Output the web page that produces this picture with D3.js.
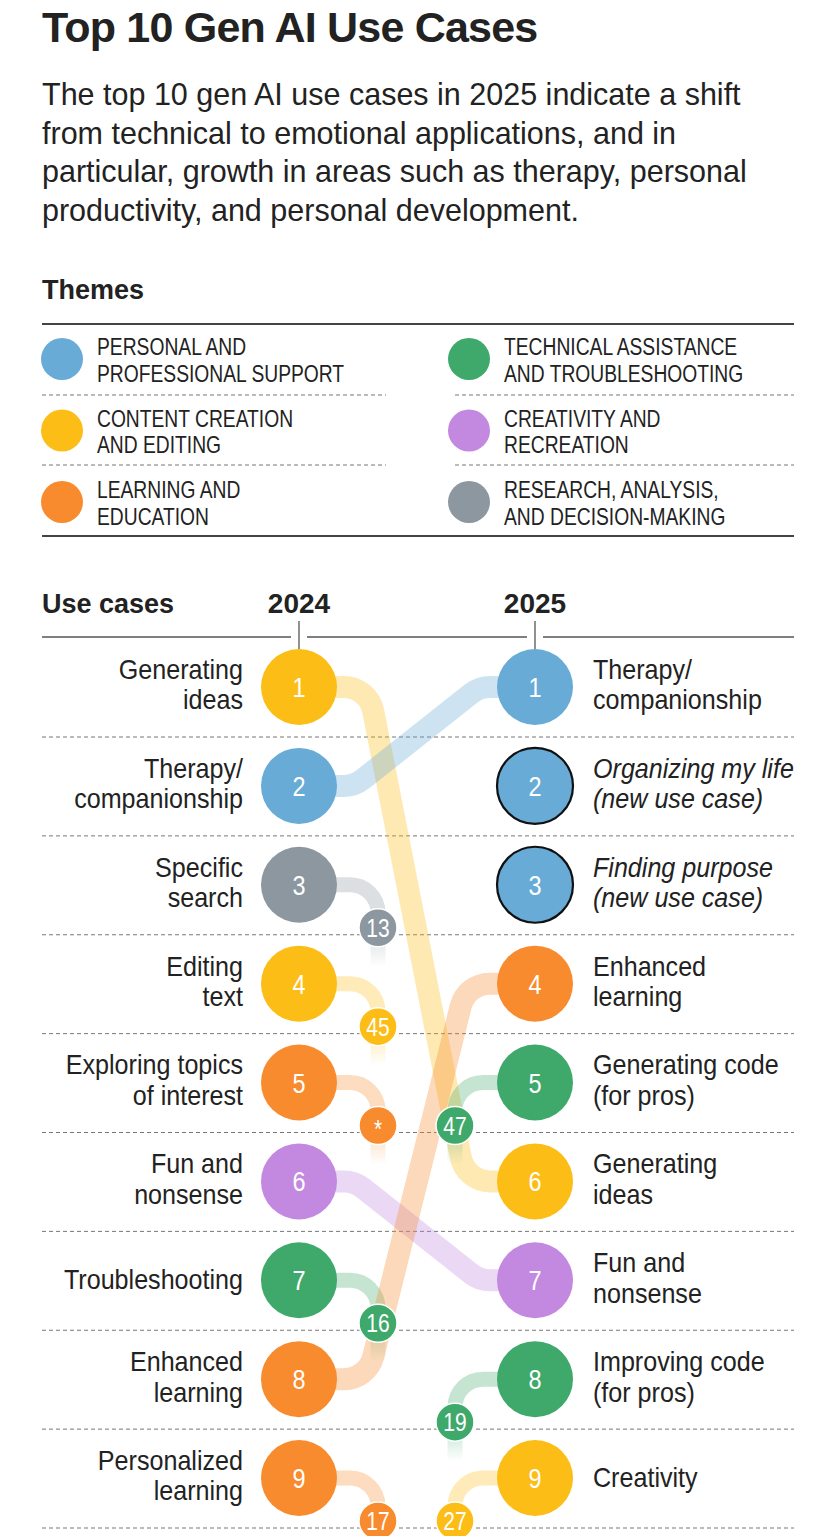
<!DOCTYPE html>
<html>
<head>
<meta charset="utf-8">
<script src="https://cdn.jsdelivr.net/npm/d3@7"></script>
<style>
body { margin: 0; background: #fff; }
text { fill: #222; }
</style>
</head>
<body>
<script>
// chart size
var svgWidth = 824;
var svgHeight = 1536;

// themes (legend)
var themeKeys = ["personal", "technical", "content", "creativity", "learning", "research"];
var themeLabels = [
    ["PERSONAL AND", "PROFESSIONAL SUPPORT"],
    ["TECHNICAL ASSISTANCE", "AND TROUBLESHOOTING"],
    ["CONTENT CREATION", "AND EDITING"],
    ["CREATIVITY AND", "RECREATION"],
    ["LEARNING AND", "EDUCATION"],
    ["RESEARCH, ANALYSIS,", "AND DECISION-MAKING"]
];
var themeColors = ["#67abd6", "#3fa96b", "#fbbd16", "#c388e0", "#f78b2e", "#8d979f"];

// 2024 ranking
var cases2024 = [
    ["Generating", "ideas"],
    ["Therapy/", "companionship"],
    ["Specific", "search"],
    ["Editing", "text"],
    ["Exploring topics", "of interest"],
    ["Fun and", "nonsense"],
    ["Troubleshooting"],
    ["Enhanced", "learning"],
    ["Personalized", "learning"]
];
var theme2024 = ["content", "personal", "research", "content", "learning", "creativity", "technical", "learning", "learning"];
var rankIn2025 = [6, 1, 13, 45, "*", 7, 16, 4, 17];

// 2025 ranking
var cases2025 = [
    ["Therapy/", "companionship"],
    ["Organizing my life", "(new use case)"],
    ["Finding purpose", "(new use case)"],
    ["Enhanced", "learning"],
    ["Generating code", "(for pros)"],
    ["Generating", "ideas"],
    ["Fun and", "nonsense"],
    ["Improving code", "(for pros)"],
    ["Creativity"]
];
var theme2025 = ["personal", "personal", "personal", "learning", "technical", "content", "creativity", "technical", "content"];
var rankIn2024 = [2, "new", "new", 8, 47, 1, 6, 19, 27];

var years = ["2024", "2025"];

var sans = "'Liberation Sans', Arial, sans-serif";
// no narrow font installed: squeeze Liberation Sans horizontally
var sx = 0.84;
var squeeze = "scale(" + sx + ",1)";
var lx = 0.93; // squeeze for row labels

var svg = d3.select("body")
    .append("svg")
    .attr("width", svgWidth)
    .attr("height", svgHeight);

// title + subtitle
svg.append("text")
    .attr("x", 42).attr("y", 42)
    .style("font-family", sans).style("font-weight", "bold").style("font-size", "43px")
    .style("letter-spacing", "-0.8px")
    .text("Top 10 Gen AI Use Cases");

var subtitle = ["The top 10 gen AI use cases in 2025 indicate a shift",
    "from technical to emotional applications, and in",
    "particular, growth in areas such as therapy, personal",
    "productivity, and personal development."];
svg.append("g").selectAll("text")
    .data(subtitle)
    .enter()
    .append("text")
    .attr("x", 42)
    .attr("y", function(d, i) { return 105 + i * 38.5; })
    .style("font-family", sans).style("font-size", "30.5px")
    .text(function(d) { return d; });

// legend
var color = d3.scaleOrdinal().domain(themeKeys).range(themeColors);

svg.append("text")
    .attr("x", 42).attr("y", 299)
    .style("font-family", sans).style("font-weight", "bold").style("font-size", "27px")
    .text("Themes");

svg.append("line").attr("x1", 42).attr("x2", 794).attr("y1", 324).attr("y2", 324)
    .attr("stroke", "#444").attr("stroke-width", 2);
svg.append("line").attr("x1", 42).attr("x2", 794).attr("y1", 536).attr("y2", 536)
    .attr("stroke", "#444").attr("stroke-width", 2);

var legY = d3.scalePoint().domain([0, 1, 2]).range([359, 502]);
var legX = d3.scalePoint().domain([0, 1]).range([62, 469]);

var legend = svg.append("g").selectAll("g")
    .data(themeKeys)
    .enter()
    .append("g")
    .attr("transform", function(d, i) {
        return "translate(" + legX(i % 2) + "," + legY(Math.floor(i / 2)) + ")";
    });
legend.append("circle").attr("r", 21).attr("fill", function(d) { return color(d); });
legend.append("text")
    .attr("transform", "scale(0.82,1)")
    .style("font-family", sans).style("font-size", "23.5px")
    .selectAll("tspan")
    .data(function(d, i) { return themeLabels[i]; })
    .enter()
    .append("tspan")
    .attr("x", 35 / 0.82)
    .attr("y", function(d, i) { return -4 + i * 27; })
    .text(function(d) { return d; });

// dotted separators inside legend
[395, 465].forEach(function(yy) {
    svg.append("line").attr("x1", 42).attr("x2", 386).attr("y1", yy).attr("y2", yy)
        .attr("stroke", "#777").attr("stroke-dasharray", "4,3");
    svg.append("line").attr("x1", 455).attr("x2", 794).attr("y1", yy).attr("y2", yy)
        .attr("stroke", "#777").attr("stroke-dasharray", "4,3");
});

// scales for the ranking
var xScale = d3.scalePoint().domain(years).range([299, 535]);
var yScale = d3.scaleLinear().domain([1, 9]).range([687, 1478]);
var rBig = 38, rSmall = 19;
var xDrop = xScale("2024") + 79;
var xRise = xScale("2025") - 80;

// header
svg.append("text")
    .attr("x", 42).attr("y", 613)
    .style("font-family", sans).style("font-weight", "bold").style("font-size", "27px")
    .text("Use cases");
svg.selectAll(".year")
    .data(years)
    .enter()
    .append("text")
    .attr("class", "year")
    .attr("x", function(d) { return xScale(d); })
    .attr("y", 613)
    .attr("text-anchor", "middle")
    .style("font-family", sans).style("font-weight", "bold").style("font-size", "28px")
    .text(function(d) { return d; });

var gap = 8;
var ruleStops = [42, xScale("2024") - gap, xScale("2024") + gap, xScale("2025") - gap, xScale("2025") + gap, 794];
for (var k = 0; k < ruleStops.length; k += 2) {
    svg.append("line").attr("x1", ruleStops[k]).attr("x2", ruleStops[k + 1])
        .attr("y1", 637).attr("y2", 637).attr("stroke", "#555").attr("stroke-width", 1.6);
}
years.forEach(function(yr) {
    svg.append("line").attr("x1", xScale(yr)).attr("x2", xScale(yr))
        .attr("y1", 621).attr("y2", yScale(1) - rBig)
        .attr("stroke", "#555").attr("stroke-width", 1.3);
});

// row separators
svg.append("g").selectAll("line")
    .data(d3.range(1, 10))
    .enter()
    .append("line")
    .attr("x1", 42).attr("x2", 794)
    .attr("y1", function(d) { return yScale(d) + 50; })
    .attr("y2", function(d) { return yScale(d) + 50; })
    .attr("stroke", "#777").attr("stroke-dasharray", "4,3");

// connectors
var defs = svg.append("defs");
var links = svg.append("g");

// elbow: horizontal, straight diagonal, horizontal, with round corners
function elbow(x1, y1, x2, y2) {
    var dy = Math.abs(y2 - y1);
    var span = 90 + 35 * (99 / dy);
    var xm = (x1 + x2) / 2;
    var p = d3.path();
    p.moveTo(x1, y1);
    p.arcTo(xm - span / 2, y1, xm + span / 2, y2, 30);
    p.arcTo(xm + span / 2, y2, x2, y2, 30);
    p.lineTo(x2, y2);
    return p.toString();
}

// hook: horizontal then down, fading tail
function hook(x1, y1, xc, len) {
    var p = d3.path();
    p.moveTo(x1, y1);
    p.arcTo(xc, y1, xc, y1 + len, 28);
    p.lineTo(xc, y1 + len);
    return p.toString();
}

function fade(id, c, y0, len) {
    var g = defs.append("linearGradient").attr("id", id)
        .attr("gradientUnits", "userSpaceOnUse")
        .attr("x1", 0).attr("x2", 0).attr("y1", y0).attr("y2", y0 + len);
    g.append("stop").attr("offset", 0).attr("stop-color", c).attr("stop-opacity", 1);
    g.append("stop").attr("offset", 0.6).attr("stop-color", c).attr("stop-opacity", 1);
    g.append("stop").attr("offset", 1).attr("stop-color", c).attr("stop-opacity", 0);
    return "url(#" + id + ")";
}

var smalls = [];

rankIn2025.forEach(function(r, i) {
    var y1 = yScale(i + 1);
    var c = color(theme2024[i]);
    if (typeof r === "number" && r <= 9) {
        links.append("path")
            .attr("d", elbow(xScale("2024"), y1, xScale("2025"), yScale(r)))
            .attr("fill", "none").attr("stroke", c)
            .attr("stroke-width", 22).attr("stroke-opacity", 0.33);
    } else {
        links.append("path")
            .attr("d", hook(xScale("2024"), y1, xDrop, 82))
            .attr("fill", "none").attr("stroke", fade("f24-" + i, c, y1, 82))
            .attr("stroke-width", 15).attr("stroke-opacity", 0.3);
        smalls.push({ x: xDrop, y: y1 + 43, label: r, theme: theme2024[i] });
    }
});

rankIn2024.forEach(function(r, i) {
    var y2 = yScale(i + 1);
    var c = color(theme2025[i]);
    if (typeof r === "number" && r > 9) {
        links.append("path")
            .attr("d", hook(xScale("2025"), y2, xRise, 82))
            .attr("fill", "none").attr("stroke", fade("f25-" + i, c, y2, 82))
            .attr("stroke-width", 15).attr("stroke-opacity", 0.3);
        smalls.push({ x: xRise, y: y2 + 43, label: r, theme: theme2025[i] });
    }
});

// big circles
function column(data, themes, yr, isNew) {
    var g = svg.append("g").selectAll("g")
        .data(data)
        .enter()
        .append("g")
        .attr("transform", function(d, i) {
            return "translate(" + xScale(yr) + "," + yScale(i + 1) + ")";
        });
    g.append("circle")
        .attr("r", rBig)
        .attr("fill", function(d, i) { return color(themes[i]); })
        .attr("stroke", function(d, i) { return isNew && isNew[i] === "new" ? "#111" : "none"; })
        .attr("stroke-width", 2.2);
    g.append("text")
        .attr("text-anchor", "middle")
        .attr("transform", squeeze)
        .attr("y", 10)
        .style("font-family", sans).style("font-size", "28px")
        .style("fill", "#fff")
        .text(function(d, i) { return i + 1; });
}
column(cases2024, theme2024, "2024");
column(cases2025, theme2025, "2025", rankIn2024);

// small circles (rank outside the top 9)
var sm = svg.append("g").selectAll("g")
    .data(smalls)
    .enter()
    .append("g")
    .attr("transform", function(d) { return "translate(" + d.x + "," + d.y + ")"; });
sm.append("circle")
    .attr("r", rSmall)
    .attr("fill", function(d) { return color(d.theme); })
    .attr("stroke", "#fff").attr("stroke-width", 1.5);
sm.append("text")
    .attr("text-anchor", "middle")
    .attr("transform", squeeze)
    .attr("y", function(d) { return d.label === "*" ? 12 : 9; })
    .style("font-family", sans).style("font-size", "25px")
    .style("fill", "#fff")
    .text(function(d) { return d.label; });

// row labels
function labels(data, x, anchor, italic) {
    svg.append("g").selectAll("text")
        .data(data)
        .enter()
        .append("text")
        .attr("text-anchor", anchor)
        .attr("transform", "scale(" + lx + ",1)")
        .style("font-family", sans).style("font-size", "27px")
        .style("font-style", function(d, i) { return italic && italic[i] === "new" ? "italic" : "normal"; })
        .each(function(d, i) {
            var y = yScale(i + 1);
            d3.select(this).selectAll("tspan")
                .data(d)
                .enter()
                .append("tspan")
                .attr("x", x / lx)
                .attr("y", function(t, j) { return d.length === 1 ? y + 9 : y - 8 + j * 30.5; })
                .text(function(t) { return t; });
        });
}
labels(cases2024, 243, "end");
labels(cases2025, 593, "start", rankIn2024);
</script>
</body>
</html>
